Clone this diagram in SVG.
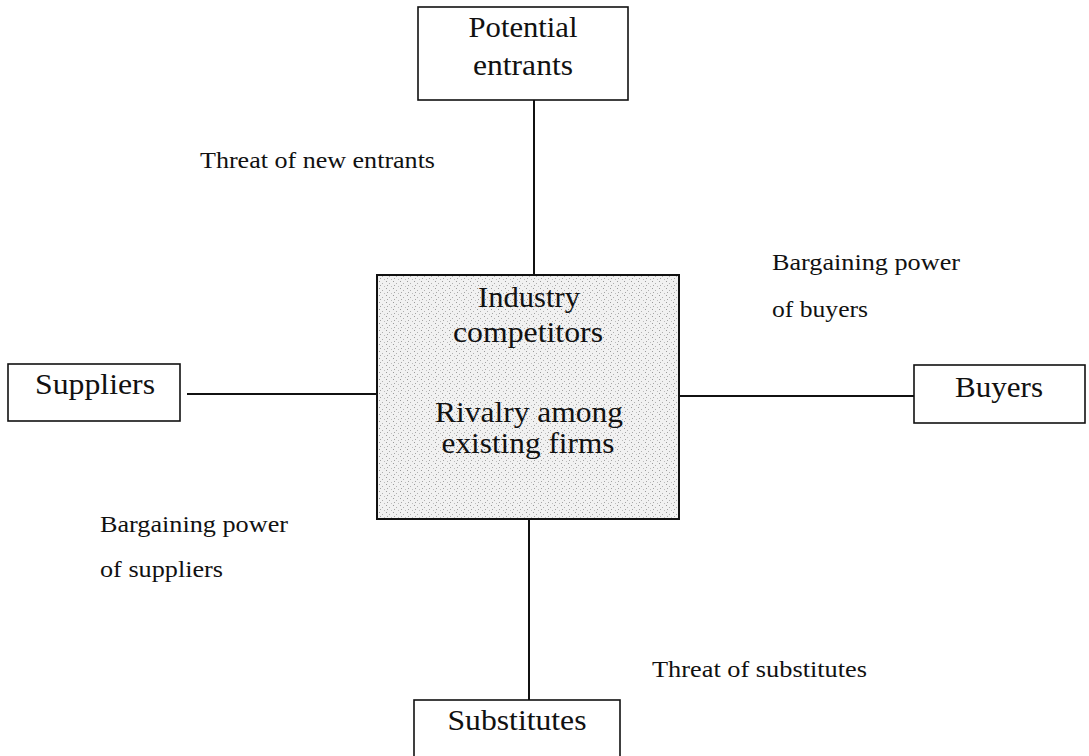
<svg xmlns="http://www.w3.org/2000/svg" width="1089" height="756" viewBox="0 0 1089 756">
<defs>
<pattern id="stipple" width="7" height="7" patternUnits="userSpaceOnUse">
<rect width="7" height="7" fill="#f1f1f1"/>
<rect x="1" y="1" width="1" height="1" fill="#9a9a9a"/>
<rect x="4" y="3" width="1" height="1" fill="#b0b0b0"/>
<rect x="2" y="5" width="1" height="1" fill="#a5a5a5"/>
<rect x="6" y="6" width="1" height="1" fill="#bdbdbd"/>
</pattern>
<style>
.box{fill:#fff;stroke:#111;stroke-width:1.6}
.main{fill:url(#stipple);stroke:#111;stroke-width:2}
.big{font-family:"Liberation Serif",serif;font-size:30px;fill:#111;text-anchor:middle}
.lbl{font-family:"Liberation Serif",serif;font-size:23.5px;fill:#111}
.conn{stroke:#111;stroke-width:2;fill:none}
</style>
</defs>
<rect width="1089" height="756" fill="#fff"/>
<g id="connectors">
<line class="conn" x1="534" y1="100" x2="534" y2="276"/>
<line class="conn" x1="187" y1="394" x2="377" y2="394"/>
<line class="conn" x1="679" y1="396" x2="914" y2="396"/>
<line class="conn" x1="529" y1="519" x2="529" y2="700"/>
</g>
<g id="potential-entrants">
<rect class="box" x="418" y="7" width="210" height="93"/>
<text class="big" x="523" y="37" textLength="109" lengthAdjust="spacingAndGlyphs">Potential</text>
<text class="big" x="523" y="75" textLength="100" lengthAdjust="spacingAndGlyphs">entrants</text>
</g>
<g id="industry-competitors">
<rect class="main" x="377" y="275" width="302" height="244"/>
<text class="big" x="529" y="307" textLength="102" lengthAdjust="spacingAndGlyphs">Industry</text>
<text class="big" x="528" y="342" textLength="150" lengthAdjust="spacingAndGlyphs">competitors</text>
<text class="big" x="529" y="422" textLength="188" lengthAdjust="spacingAndGlyphs">Rivalry among</text>
<text class="big" x="528" y="453" textLength="173" lengthAdjust="spacingAndGlyphs">existing firms</text>
</g>
<g id="suppliers">
<rect class="box" x="8" y="364" width="172" height="57"/>
<text class="big" x="95" y="394" textLength="120" lengthAdjust="spacingAndGlyphs">Suppliers</text>
</g>
<g id="buyers">
<rect class="box" x="914" y="365" width="171" height="58"/>
<text class="big" x="999" y="397" textLength="88" lengthAdjust="spacingAndGlyphs">Buyers</text>
</g>
<g id="substitutes">
<rect class="box" x="414" y="700" width="206" height="70"/>
<text class="big" x="517" y="730" textLength="139" lengthAdjust="spacingAndGlyphs">Substitutes</text>
</g>
<g id="labels">
<text class="lbl" x="200" y="168" textLength="235" lengthAdjust="spacingAndGlyphs">Threat of new entrants</text>
<text class="lbl" x="772" y="270" textLength="188" lengthAdjust="spacingAndGlyphs">Bargaining power</text>
<text class="lbl" x="772" y="317" textLength="96" lengthAdjust="spacingAndGlyphs">of buyers</text>
<text class="lbl" x="100" y="532" textLength="188" lengthAdjust="spacingAndGlyphs">Bargaining power</text>
<text class="lbl" x="100" y="577" textLength="123" lengthAdjust="spacingAndGlyphs">of suppliers</text>
<text class="lbl" x="652" y="677" textLength="215" lengthAdjust="spacingAndGlyphs">Threat of substitutes</text>
</g>
</svg>
